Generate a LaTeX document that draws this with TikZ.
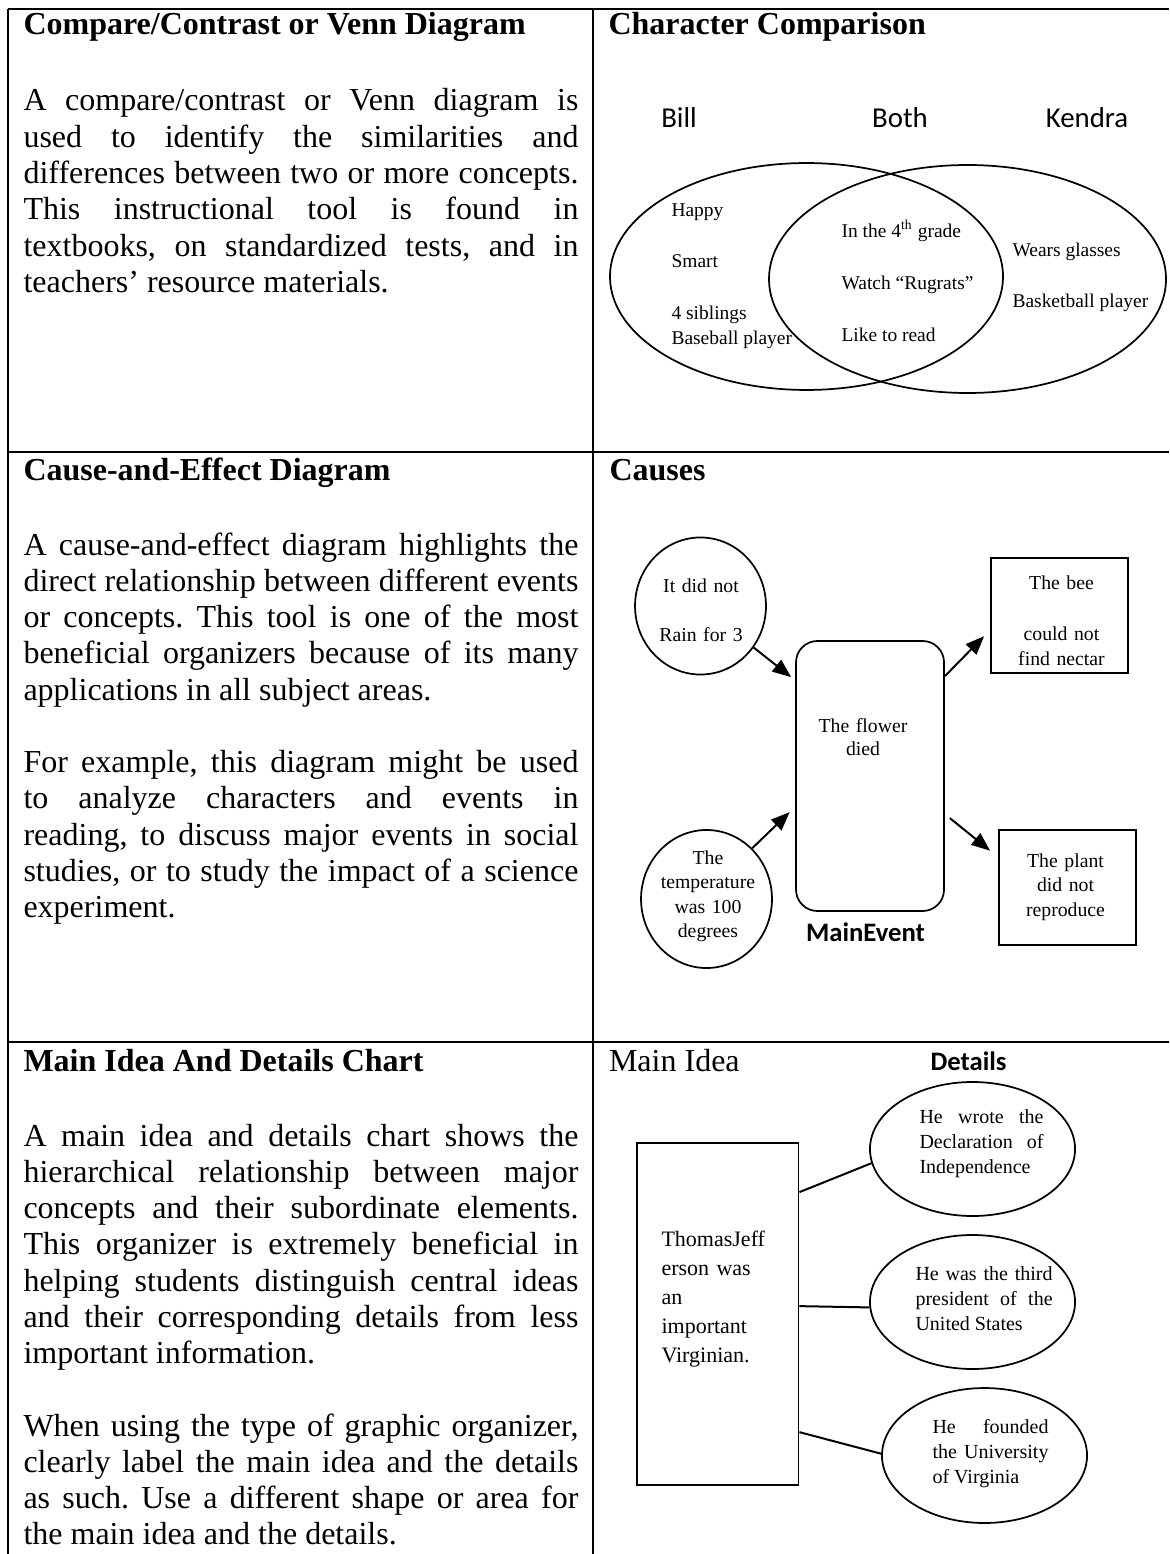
\documentclass[tikz,border=0pt]{standalone}
\usepackage{fontspec}
\setmainfont{Liberation Serif}
\newfontfamily\calfont{Carlito}
\usetikzlibrary{shapes.geometric,arrows.meta,calc}
\frenchspacing

% a full-width justified line inside a fixed-width text block
\newcommand{\jl}[1]{\makebox[\linewidth][s]{#1}\par}

\tikzset{
  rule/.style={line width=0.75pt},
  outline/.style={draw, line width=0.65pt, inner sep=0pt},
  cellhead/.style={anchor=base west, inner sep=0pt, font=\fontsize{12}{13.8}\selectfont\bfseries},
  cellplain/.style={anchor=base west, inner sep=0pt, font=\fontsize{12}{13.8}\selectfont},
  celltext/.style={anchor=base west, inner sep=0pt, text width=208.1pt, align=justify, font=\fontsize{12}{13.6}\selectfont},
  vennhead/.style={anchor=base, inner sep=0pt, font=\calfont\fontsize{10.8}{13}\selectfont},
  venntext/.style={anchor=base west, inner sep=0pt, font=\fontsize{7.3}{9}\selectfont},
  cetext/.style={anchor=base, inner sep=0pt, text width=52pt, align=center, font=\fontsize{7.4}{9.3}\selectfont},
  tag/.style={anchor=base, inner sep=0pt, font=\calfont\bfseries\fontsize{10}{12}\selectfont},
  detail/.style={anchor=base west, inner sep=0pt, align=justify, font=\fontsize{7.5}{9.4}\selectfont},
  arr/.style={line width=0.75pt, -{Triangle[length=7pt,width=5.5pt]}},
  link/.style={line width=0.75pt},
}

\begin{document}
\begin{tikzpicture}[x=0.375pt, y=-0.375pt]
\useasboundingbox (0,0) rectangle (1169,1554);

% ---------- table grid ----------
\draw[rule] (8,9.5) -- (1169,9.5);
\draw[rule] (8,9.5) -- (8,1554);
\draw[rule] (593,9.5) -- (593,1554);
\draw[rule] (8,452) -- (1169,452);
\draw[rule] (8,1042) -- (1169,1042);

% ---------- row 1, left ----------
\node[cellhead] (h1) at (23,35) {Compare/Contrast or Venn Diagram};
\node[celltext] (t1) at (23,111) {%
\jl{A compare/contrast or Venn diagram is}
\jl{used to identify the similarities and}
\jl{differences between two or more concepts.}
\jl{This instructional tool is found in}
\jl{textbooks, on standardized tests, and in}
teachers’ resource materials.};

% ---------- row 1, right: Venn diagram ----------
\node[cellhead] (h1r) at (608,35) {Character Comparison};
\node[vennhead] (bill) at (679,128) {Bill};
\node[vennhead] (both) at (900,128) {Both};
\node[vennhead] (kendra) at (1087,128) {Kendra};

\node[outline, ellipse, minimum width=147.4pt, minimum height=85.1pt] (vl) at (806.5,276.5) {};
\node[outline, ellipse, minimum width=148.9pt, minimum height=85.5pt] (vr) at (967.5,279) {};

\node[venntext] (v1) at (671,217) {Happy};
\node[venntext] (v2) at (671,268) {Smart};
\node[venntext] (v3) at (671,320) {4 siblings};
\node[venntext] (v4) at (671,345) {Baseball player};
\node[venntext] (v5) at (841,238) {In the 4\textsuperscript{th} grade};
\node[venntext] (v6) at (841,290) {Watch “Rugrats”};
\node[venntext] (v7) at (841,342) {Like to read};
\node[venntext] (v8) at (1012,257) {Wears glasses};
\node[venntext] (v9) at (1012,308) {Basketball player};

% ---------- row 2, left ----------
\node[cellhead] (h2) at (23,480) {Cause-and-Effect Diagram};
\node[celltext] (t2) at (23,555) {%
\jl{A cause-and-effect diagram highlights the}
\jl{direct relationship between different events}
\jl{or concepts. This tool is one of the most}
\jl{beneficial organizers because of its many}
applications in all subject areas.\par
\mbox{}\par
\jl{For example, this diagram might be used}
\jl{to analyze characters and events in}
\jl{reading, to discuss major events in social}
\jl{studies, or to study the impact of a science}
experiment.};

% ---------- row 2, right: cause and effect ----------
\node[cellhead] (h2r) at (609,481) {Causes};

\node[outline, ellipse, minimum width=49.1pt, minimum height=51.4pt] (c1) at (700.5,606) {};
\node[outline, ellipse, minimum width=49.1pt, minimum height=51.75pt] (c2) at (706.5,899) {};
\node[outline, rectangle, rounded corners=8pt, minimum width=55.5pt, minimum height=101.25pt] (fl) at (870,776) {};
\node[outline, rectangle, minimum width=51.4pt, minimum height=43.1pt] (b1) at (1059.5,615.5) {};
\node[outline, rectangle, minimum width=51.4pt, minimum height=43.1pt] (b2) at (1067.5,887.5) {};

\node[cetext] (c1t) at (701,592) {It did not\\[9.3pt]Rain for 3};
\node[cetext, font=\fontsize{7.4}{8.9}\selectfont] (flt) at (863,732) {The flower\\died};
\node[cetext, font=\fontsize{7.4}{9.2}\selectfont] (c2t) at (708,864) {The\\temperature\\was 100\\degrees};
\node[cetext] (b1t) at (1061.5,589) {The bee\\[10pt]could not\\find nectar};
\node[cetext, font=\fontsize{7.4}{9.2}\selectfont] (b2t) at (1065.5,867) {The plant\\did not\\reproduce};
\node[tag] (mev) at (865.5,941) {MainEvent};

\coordinate (a1end) at ($(fl.north west)+(-4,37)$);
\coordinate (a2end) at ($(fl.north west)+(-5.5,172)$);
\coordinate (a3start) at ($(fl.north east)+(0,36)$);
\coordinate (a3end) at ($(b1.north west)+(-6,79)$);
\coordinate (a4start) at ($(fl.north east)+(5,178)$);
\coordinate (a4end) at ($(b2.north west)+(-8,21.5)$);

\draw[arr] (c1.-38) -- (a1end);
\draw[arr] (c2.48) -- (a2end);
\draw[arr] (a3start) -- (a3end);
\draw[arr] (a4start) -- (a4end);

% ---------- row 3, left ----------
\node[cellhead] (h3) at (23,1071) {Main Idea And Details Chart};
\node[celltext] (t3) at (23,1146) {%
\jl{A main idea and details chart shows the}
\jl{hierarchical relationship between major}
\jl{concepts and their subordinate elements.}
\jl{This organizer is extremely beneficial in}
\jl{helping students distinguish central ideas}
\jl{and their corresponding details from less}
important information.\par
\mbox{}\par
\jl{When using the type of graphic organizer,}
\jl{clearly label the main idea and the details}
\jl{as such. Use a different shape or area for}
the main idea and the details.};

% ---------- row 3, right: main idea and details ----------
\node[cellplain] (h3r) at (608.5,1071) {Main Idea};
\node[tag, anchor=base west] (det) at (930,1070) {Details};

\node[outline, rectangle, minimum width=60.6pt, minimum height=128.25pt] (mb) at (717.75,1314) {};
\node[anchor=base west, inner sep=0pt, text width=45pt, align=left, font=\fontsize{8.25}{10.9}\selectfont] (mbt) at (661,1246)
  {ThomasJeff\\erson was\\an\\important\\Virginian.};

\node[outline, ellipse, minimum width=76.9pt, minimum height=50.25pt] (e1) at (972.5,1149) {};
\node[outline, ellipse, minimum width=76.9pt, minimum height=50.25pt] (e2) at (972.5,1302) {};
\node[outline, ellipse, minimum width=76.9pt, minimum height=50.6pt] (e3) at (984.5,1455.5) {};

\node[detail, text width=46.5pt] (e1t) at (919,1123) {%
\jl{He wrote the}
\jl{Declaration of}
Independence};
\node[detail, text width=51.4pt] (e2t) at (915,1280) {%
\jl{He was the third}
\jl{president of the}
United States};
\node[detail, text width=43.5pt] (e3t) at (932,1433) {%
\jl{He founded}
\jl{the University}
of Virginia};

\draw[link] ($(mb.north east)+(0,50)$) -- (e1.188);
\draw[link] ($(mb.north east)+(0,164)$) -- (e2.183);
\draw[link] ($(mb.north east)+(0,290)$) -- (e3.179);
\end{tikzpicture}
\end{document}
